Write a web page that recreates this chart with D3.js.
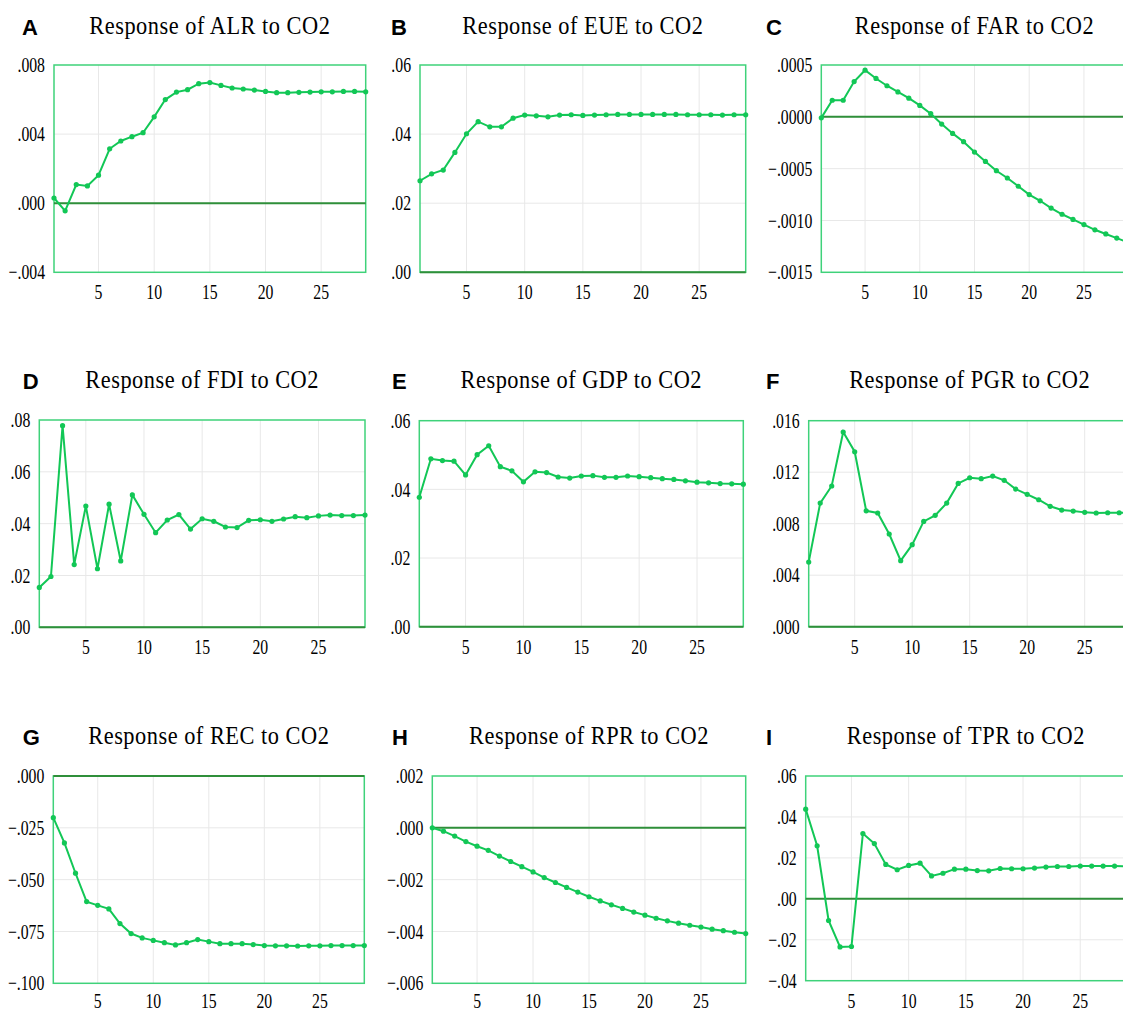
<!DOCTYPE html>
<html>
<head>
<meta charset="utf-8">
<script src="https://cdn.jsdelivr.net/npm/d3@7"></script>
<style>
  body { margin: 0; background: #fff; }
  .serif { font-family: "Liberation Serif", "Times New Roman", serif; }
  .letter { font-family: "Liberation Sans", Arial, sans-serif; font-weight: bold; }
</style>
</head>
<body>
<div class="chart"></div>
<script>
// periods on the x axis
const periods = [1, 2, 3, 4, 5, 6, 7, 8, 9, 10, 11, 12, 13, 14, 15, 16, 17, 18, 19, 20, 21, 22, 23, 24, 25, 26, 27, 28, 29];
const xTicks = [5, 10, 15, 20, 25];

// impulse responses
const alr = [0.0003, -0.00044, 0.00108, 0.0010, 0.00162, 0.00315, 0.0036, 0.00385, 0.00408, 0.0050,
  0.0060, 0.00643, 0.00657, 0.00692, 0.00698, 0.00682, 0.00667, 0.00661, 0.00655, 0.00647,
  0.0064, 0.0064, 0.00642, 0.00643, 0.00645, 0.00645, 0.00647, 0.00647, 0.00645];
const eue = [0.0265, 0.0285, 0.0296, 0.0347, 0.0401, 0.0436, 0.0421, 0.0421, 0.0446, 0.0455,
  0.0453, 0.0450, 0.0455, 0.0456, 0.0454, 0.0455, 0.0456, 0.0457, 0.0457, 0.0457,
  0.0457, 0.0457, 0.0457, 0.0456, 0.0456, 0.0456, 0.0455, 0.0456, 0.0456];
const far = [-0.00001, 0.00016, 0.00016, 0.00034, 0.00045, 0.00037, 0.0003, 0.00024, 0.00018, 0.00011,
  0.00003, -0.00007, -0.00016, -0.00024, -0.00034, -0.00043, -0.00052, -0.00059, -0.00067, -0.00075,
  -0.00081, -0.00088, -0.00094, -0.00099, -0.00104, -0.00109, -0.00113, -0.00117, -0.00121];
const fdi = [0.0154, 0.0196, 0.0778, 0.0242, 0.0468, 0.0226, 0.0475, 0.0256, 0.0511, 0.0436,
  0.0365, 0.0414, 0.0435, 0.0379, 0.0419, 0.0409, 0.0387, 0.0385, 0.0413, 0.0415,
  0.0409, 0.0418, 0.0427, 0.0423, 0.0430, 0.0433, 0.0431, 0.0431, 0.0433];
const gdp = [0.0377, 0.0489, 0.0484, 0.0482, 0.0442, 0.0501, 0.0527, 0.0466, 0.0454, 0.0422,
  0.0451, 0.0449, 0.0436, 0.0433, 0.0439, 0.0440, 0.0435, 0.0435, 0.0439, 0.0437,
  0.0434, 0.0431, 0.0429, 0.0425, 0.0421, 0.0419, 0.0417, 0.0416, 0.0415];
const pgr = [0.00502, 0.0096, 0.01093, 0.01512, 0.01359, 0.0090, 0.00883, 0.0072, 0.00513, 0.00637,
  0.00818, 0.00865, 0.0096, 0.01113, 0.01157, 0.0115, 0.0117, 0.01137, 0.01069, 0.01028,
  0.00986, 0.00935, 0.00906, 0.00898, 0.00888, 0.00883, 0.00885, 0.00885, 0.00885];
const rec = [-0.0201, -0.0323, -0.0469, -0.0606, -0.0624, -0.0641, -0.0712, -0.0760, -0.0781, -0.0793,
  -0.0804, -0.0815, -0.0804, -0.0789, -0.0799, -0.0809, -0.0809, -0.0809, -0.0813, -0.0818,
  -0.0819, -0.0819, -0.0820, -0.0819, -0.0819, -0.0818, -0.0818, -0.0818, -0.0818];
const rpr = [0.0, -0.00013, -0.00032, -0.00053, -0.00071, -0.00087, -0.00109, -0.0013, -0.0015, -0.0017,
  -0.00192, -0.00211, -0.0023, -0.00248, -0.00266, -0.00282, -0.00297, -0.00311, -0.00325, -0.00337,
  -0.00349, -0.00359, -0.00368, -0.00376, -0.00383, -0.00391, -0.00397, -0.00403, -0.00408];
const tpr = [0.0438, 0.0259, -0.0106, -0.0235, -0.0233, 0.0319, 0.0270, 0.0168, 0.0142, 0.0163,
  0.0174, 0.0112, 0.0125, 0.0145, 0.0145, 0.0138, 0.0137, 0.0148, 0.0147, 0.0147,
  0.0150, 0.0155, 0.0158, 0.0158, 0.0160, 0.0160, 0.0160, 0.0160, 0.0158];

// y tick values per panel
const ticksALR = [-0.004, 0, 0.004, 0.008];
const ticksEUE = [0, 0.02, 0.04, 0.06];
const ticksFAR = [-0.0015, -0.001, -0.0005, 0, 0.0005];
const ticksFDI = [0, 0.02, 0.04, 0.06, 0.08];
const ticksGDP = [0, 0.02, 0.04, 0.06];
const ticksPGR = [0, 0.004, 0.008, 0.012, 0.016];
const ticksREC = [-0.1, -0.075, -0.05, -0.025, 0];
const ticksRPR = [-0.006, -0.004, -0.002, 0, 0.002];
const ticksTPR = [-0.04, -0.02, 0, 0.02, 0.04, 0.06];

const svgWidth = 1123;
const svgHeight = 1014;

// panel layout (pixel boxes of each plot area: left, right, top, bottom)
const panels = [
  { letter: "A", title: "Response of ALR to CO2", values: alr, ticks: ticksALR, digits: 3, box: [54, 365.7, 65, 272.3], letterX: 22, base: 34 },
  { letter: "B", title: "Response of EUE to CO2", values: eue, ticks: ticksEUE, digits: 2, box: [420, 745.7, 65, 272.3], letterX: 391, base: 34 },
  { letter: "C", title: "Response of FAR to CO2", values: far, ticks: ticksFAR, digits: 4, box: [821.3, 1127.7, 65, 272.3], letterX: 766, base: 34 },
  { letter: "D", title: "Response of FDI to CO2", values: fdi, ticks: ticksFDI, digits: 2, box: [39.3, 365, 420, 627.3], letterX: 22.7, base: 388 },
  { letter: "E", title: "Response of GDP to CO2", values: gdp, ticks: ticksGDP, digits: 2, box: [419.3, 743.3, 420.7, 626.7], letterX: 392, base: 388 },
  { letter: "F", title: "Response of PGR to CO2", values: pgr, ticks: ticksPGR, digits: 3, box: [808.7, 1130.7, 420.7, 626.7], letterX: 766, base: 388 },
  { letter: "G", title: "Response of REC to CO2", values: rec, ticks: ticksREC, digits: 3, box: [53.3, 364.3, 776, 983.3], letterX: 22.7, base: 744 },
  { letter: "H", title: "Response of RPR to CO2", values: rpr, ticks: ticksRPR, digits: 3, box: [432.3, 745.7, 776, 983.3], letterX: 392, base: 744 },
  { letter: "I", title: "Response of TPR to CO2", values: tpr, ticks: ticksTPR, digits: 2, box: [805.7, 1126, 776, 980.7], letterX: 766, base: 744 }
];

const lineColor = "#12c756";
const frameColor = "#3fd27a";
const zeroColor = "#2f8f3a";
const gridColor = "#e8e8e8";

let svg = d3.select(".chart")
  .append("svg")
  .attr("width", svgWidth)
  .attr("height", svgHeight);

panels.forEach(function (p) {
  const [left, right, top, bottom] = p.box;
  const ticks = p.ticks;
  const x = d3.scaleLinear().domain([1, 29]).range([left, right]);
  const y = d3.scaleLinear().domain([ticks[0], ticks[ticks.length - 1]]).range([bottom, top]);
  const fmt = v => d3.format("." + p.digits + "f")(v).replace("0.", ".");

  const g = svg.append("g");

  // gridlines
  g.selectAll(".vgrid")
    .data(xTicks)
    .enter()
    .append("line")
    .attr("x1", d => x(d)).attr("x2", d => x(d))
    .attr("y1", top).attr("y2", bottom)
    .attr("stroke", gridColor).attr("stroke-width", 1);

  g.selectAll(".hgrid")
    .data(ticks.slice(1, -1))
    .enter()
    .append("line")
    .attr("x1", left).attr("x2", right)
    .attr("y1", d => y(d)).attr("y2", d => y(d))
    .attr("stroke", gridColor).attr("stroke-width", 1);

  // frame
  g.append("rect")
    .attr("x", left).attr("y", top)
    .attr("width", right - left).attr("height", bottom - top)
    .attr("fill", "none")
    .attr("stroke", frameColor)
    .attr("stroke-width", 1.5);

  // zero line
  if (ticks[0] <= 0 && ticks[ticks.length - 1] >= 0) {
    g.append("line")
      .attr("x1", left).attr("x2", right)
      .attr("y1", y(0)).attr("y2", y(0))
      .attr("stroke", zeroColor)
      .attr("stroke-width", 2);
  }

  // y tick labels
  g.selectAll(".ylab")
    .data(ticks)
    .enter()
    .append("text")
    .attr("class", "serif")
    .attr("transform", d => `translate(${left - 9}, ${y(d)}) scale(0.75, 1)`)
    .attr("dy", "0.34em")
    .attr("text-anchor", "end")
    .attr("font-size", "21px")
    .attr("fill", "#000")
    .text(fmt);

  // x tick labels
  g.selectAll(".xlab")
    .data(xTicks)
    .enter()
    .append("text")
    .attr("class", "serif")
    .attr("transform", d => `translate(${x(d)}, ${Math.min(bottom + 27, 1008)}) scale(0.75, 1)`)
    .attr("text-anchor", "middle")
    .attr("font-size", "21px")
    .attr("fill", "#000")
    .text(d => d);

  // response line and points
  const line = d3.line()
    .x((d, i) => x(periods[i]))
    .y(d => y(d));

  g.append("path")
    .datum(p.values)
    .attr("d", line)
    .attr("fill", "none")
    .attr("stroke", lineColor)
    .attr("stroke-width", 2);

  g.selectAll(".pt")
    .data(p.values)
    .enter()
    .append("circle")
    .attr("cx", (d, i) => x(periods[i]))
    .attr("cy", d => y(d))
    .attr("r", 2.6)
    .attr("fill", lineColor);

  // title
  g.append("text")
    .attr("class", "serif")
    .attr("transform", `translate(${(left + right) / 2}, ${p.base}) scale(0.86, 1)`)
    .attr("text-anchor", "middle")
    .attr("font-size", "26px")
    .attr("letter-spacing", "0.6px")
    .attr("fill", "#000")
    .text(p.title);

  // panel letter
  g.append("text")
    .attr("class", "letter")
    .attr("x", p.letterX)
    .attr("y", p.base + 1)
    .attr("font-size", "22px")
    .attr("fill", "#000")
    .text(p.letter);
});
</script>
</body>
</html>
